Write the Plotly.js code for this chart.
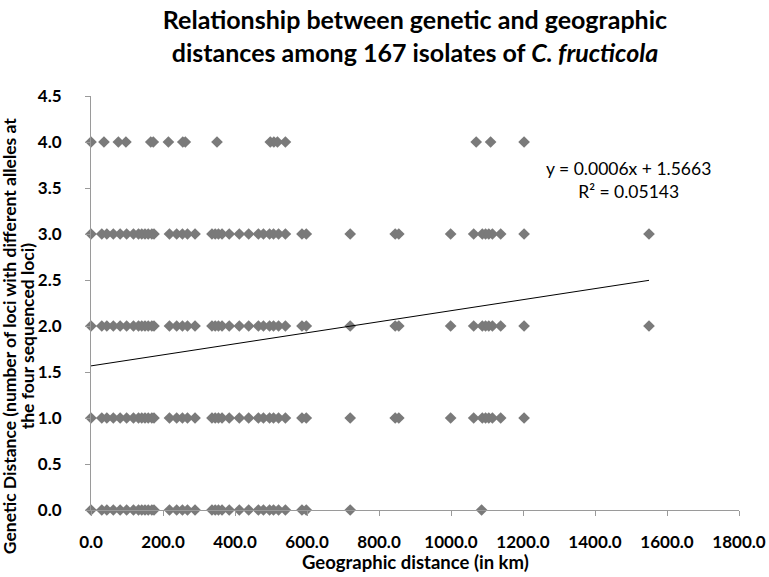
<!DOCTYPE html>
<html>
<head>
<meta charset="utf-8">
<script src="https://cdn.plot.ly/plotly-3.0.1.min.js"></script>
<style>
  body { margin: 0; background: white; }
  #myChart { width: 769px; height: 577px; }
</style>
</head>
<body>
<div id="myChart"></div>
<script>
// geographic distance (km) of the pairs, one list for each genetic distance
var dist_gd0 = [0, 30, 44, 62, 81, 99, 118, 132, 141, 150, 159, 169, 175, 218, 238, 254, 268, 289, 336, 345, 354, 364, 384, 412, 438, 465, 479, 496, 507, 521, 540, 586, 598, 720, 1085];
var dist_gd1 = [0, 30, 44, 62, 81, 99, 118, 132, 141, 150, 159, 169, 175, 218, 238, 254, 268, 289, 336, 345, 354, 364, 384, 412, 438, 465, 479, 496, 507, 521, 540, 586, 598, 720, 845, 855, 999, 1063, 1087, 1096, 1105, 1115, 1138, 1203];
var dist_gd2 = [0, 30, 44, 62, 81, 99, 118, 132, 141, 150, 159, 169, 175, 218, 238, 254, 268, 289, 336, 345, 354, 364, 384, 412, 438, 465, 479, 496, 507, 521, 540, 586, 598, 720, 845, 855, 999, 1063, 1087, 1096, 1105, 1115, 1138, 1203, 1550];
var dist_gd3 = [0, 30, 44, 62, 81, 99, 118, 132, 141, 150, 159, 169, 175, 218, 238, 254, 268, 289, 336, 345, 354, 364, 384, 412, 438, 465, 479, 496, 507, 521, 540, 586, 598, 720, 845, 855, 999, 1063, 1087, 1096, 1105, 1115, 1138, 1203, 1550];
var dist_gd4 = [0, 36, 76, 97, 166, 173, 215, 255, 262, 350, 498, 508, 518, 540, 1070, 1110, 1203];
var gen_levels = [0, 1, 2, 3, 4];

// linear trend shown on the chart
var trend_slope = 0.0006;
var trend_intercept = 1.5663;
var trend_r2 = 0.05143;
var trend_range = [0, 1550];

var rows = [dist_gd0, dist_gd1, dist_gd2, dist_gd3, dist_gd4];
var pts_x = [];
var pts_y = [];
for (var i = 0; i < rows.length; i++) {
  for (var j = 0; j < rows[i].length; j++) {
    pts_x.push(rows[i][j]);
    pts_y.push(gen_levels[i]);
  }
}

var trend_y = trend_range.map(function(x) {
  return trend_slope * x + trend_intercept;
});

var font_name = 'Lato, "Open Sans", sans-serif';

var data_pts = {
  x: pts_x,
  y: pts_y,
  mode: 'markers',
  type: 'scatter',
  cliponaxis: false,
  hoverinfo: 'x+y',
  marker: {
    symbol: 'diamond',
    size: 9,
    color: '#7a7a7a'
  }
};

var data_trend = {
  x: trend_range,
  y: trend_y,
  mode: 'lines',
  type: 'scatter',
  hoverinfo: 'skip',
  line: {color: '#000000', width: 1}
};

var axis_common = {
  showline: true,
  linecolor: '#9a9a9a',
  linewidth: 1,
  ticks: 'outside',
  ticklen: 5,
  tickcolor: '#9a9a9a',
  showgrid: false,
  zeroline: false,
  tickformat: '.1f',
  tickfont: {family: font_name, size: 17, color: 'black', weight: 700}
};

var title_font = {family: font_name, size: 17.5, color: 'black', weight: 700};

var layout_chart = {
  width: 769,
  height: 577,
  showlegend: false,
  paper_bgcolor: 'white',
  plot_bgcolor: 'white',
  title: {
    text: 'Relationship between genetic and geographic<br>distances among 167 isolates of <i>C. fructicola</i>',
    font: {family: font_name, size: 25, color: 'black', weight: 700},
    xref: 'paper',
    x: 0.5,
    yref: 'container',
    y: 0.949,
    yanchor: 'middle'
  },
  xaxis: Object.assign({}, axis_common, {
    range: [0, 1800],
    dtick: 200,
    ticklabelstandoff: 12
  }),
  yaxis: Object.assign({}, axis_common, {
    range: [0, 4.5],
    dtick: 0.5,
    ticklabelstandoff: 20
  }),
  margin: {l: 91, r: 30, t: 96, b: 67},
  annotations: [
    {
      xref: 'paper', yref: 'paper',
      x: 0.5, y: -0.1256,
      xanchor: 'center', yanchor: 'middle',
      showarrow: false,
      text: 'Geographic distance (in km)',
      font: {family: font_name, size: 18.5, color: 'black', weight: 700}
    },
    {
      xref: 'paper', yref: 'paper',
      x: -0.1265, y: 0.42,
      xanchor: 'center', yanchor: 'middle',
      textangle: -90,
      showarrow: false,
      text: 'Genetic Distance (number of loci with different alleles at',
      font: title_font
    },
    {
      xref: 'paper', yref: 'paper',
      x: -0.0985, y: 0.42,
      xanchor: 'center', yanchor: 'middle',
      textangle: -90,
      showarrow: false,
      text: 'the four sequenced loci)',
      font: title_font
    },
    {
      xref: 'x', yref: 'y',
      x: 1493, y: 3.59,
      showarrow: false,
      align: 'center',
      text: 'y = ' + trend_slope.toFixed(4) + 'x + ' + trend_intercept.toFixed(4) + '<br>R² = ' + trend_r2,
      font: {family: font_name, size: 17.5, color: 'black'}
    }
  ]
};

var myChart = document.getElementById('myChart');
Plotly.newPlot(myChart, [data_pts, data_trend], layout_chart, {displayModeBar: false});
</script>
</body>
</html>
